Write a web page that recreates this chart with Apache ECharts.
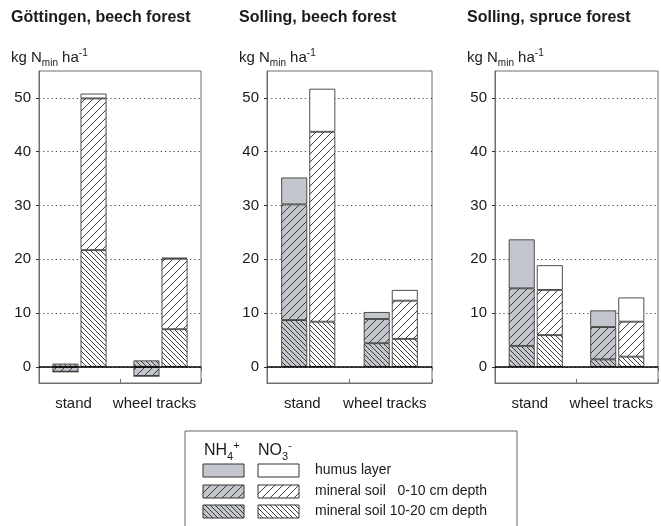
<!DOCTYPE html>
<html>
<head>
<meta charset="utf-8">
<script src="https://cdn.jsdelivr.net/npm/echarts@6/dist/echarts.min.js"></script>
<style>
  html, body { margin: 0; padding: 0; background: #fff; }
  #chart { width: 661px; height: 526px; }
</style>
</head>
<body>
<div id="chart"></div>
<script>
const categories = ['stand', 'wheel tracks'];
const yTickValues = [0, 10, 20, 30, 40, 50];
const panelTitles = ['Göttingen, beech forest', 'Solling, beech forest', 'Solling, spruce forest'];
const layerNames = ['humus layer', 'mineral soil   0-10 cm depth', 'mineral soil 10-20 cm depth'];

// kg Nmin ha-1, values per category [stand, wheel tracks]
// Göttingen, beech forest
const gottNh4Deep = [0.6, 1.2];
const gottNh4Top = [-0.9, -1.7];
const gottNh4Humus = [0, 0];
const gottNo3Deep = [21.7, 7.0];
const gottNo3Top = [28.2, 13.1];
const gottNo3Humus = [0.9, 0.2];
// Solling, beech forest
const sollBeechNh4Deep = [8.7, 4.4];
const sollBeechNh4Top = [21.5, 4.5];
const sollBeechNh4Humus = [5.0, 1.3];
const sollBeechNo3Deep = [8.4, 5.2];
const sollBeechNo3Top = [35.3, 7.1];
const sollBeechNo3Humus = [8.0, 2.0];
// Solling, spruce forest
const sollSpruceNh4Deep = [3.9, 1.4];
const sollSpruceNh4Top = [10.7, 6.0];
const sollSpruceNh4Humus = [9.1, 3.1];
const sollSpruceNo3Deep = [5.9, 1.9];
const sollSpruceNo3Top = [8.4, 6.5];
const sollSpruceNo3Humus = [4.6, 4.5];

const panelData = [
  { nh4: [gottNh4Deep, gottNh4Top, gottNh4Humus], no3: [gottNo3Deep, gottNo3Top, gottNo3Humus] },
  { nh4: [sollBeechNh4Deep, sollBeechNh4Top, sollBeechNh4Humus], no3: [sollBeechNo3Deep, sollBeechNo3Top, sollBeechNo3Humus] },
  { nh4: [sollSpruceNh4Deep, sollSpruceNh4Top, sollSpruceNh4Humus], no3: [sollSpruceNo3Deep, sollSpruceNo3Top, sollSpruceNo3Humus] }
];

// frame of each panel
const gridBoxes = [
  { left: 39, width: 162 },
  { left: 267, width: 165 },
  { left: 495, width: 163 }
];
const gridTop = 71;
const gridHeight = 312;

const GRAY = '#c3c6cc';
const FONT = 'Liberation Sans, Arial, sans-serif';

// hatch tiles, '/' for 0-10 cm, '\' for 10-20 cm
function hatch(bg, dir, step) {
  const c = document.createElement('canvas');
  c.width = step;
  c.height = step;
  const ctx = c.getContext('2d');
  if (bg) {
    ctx.fillStyle = bg;
    ctx.fillRect(0, 0, step, step);
  }
  ctx.strokeStyle = '#2a2a2a';
  ctx.lineWidth = 0.9;
  ctx.beginPath();
  if (dir === '/') {
    ctx.moveTo(-1, step + 1); ctx.lineTo(step + 1, -1);
    ctx.moveTo(-1, 1); ctx.lineTo(1, -1);
    ctx.moveTo(step - 1, step + 1); ctx.lineTo(step + 1, step - 1);
  } else {
    ctx.moveTo(-1, -1); ctx.lineTo(step + 1, step + 1);
    ctx.moveTo(step - 1, -1); ctx.lineTo(step + 1, 1);
    ctx.moveTo(-1, step - 1); ctx.lineTo(1, step + 1);
  }
  ctx.stroke();
  return { image: c, repeat: 'repeat' };
}

const fills = {
  nh4: [hatch(GRAY, '\\', 5), hatch(GRAY, '/', 8), GRAY],
  no3: [hatch('#ffffff', '\\', 5), hatch('#ffffff', '/', 8), '#ffffff']
};

const grids = [];
const xAxes = [];
const yAxes = [];
const series = [];

gridBoxes.forEach((g, p) => {
  grids.push({
    left: g.left, width: g.width, top: gridTop, height: gridHeight,
    show: true, borderColor: '#6e6e6e', borderWidth: 1, backgroundColor: 'transparent'
  });
  xAxes.push({
    type: 'category', gridIndex: p, data: categories, position: 'bottom',
    axisLine: { show: true, onZero: false, lineStyle: { color: '#6e6e6e' } },
    axisTick: { show: true, inside: true, length: 4, lineStyle: { color: '#6e6e6e' } },
    axisLabel: {
      interval: 0, hideOverlap: false, margin: 13, fontSize: 15, color: '#1a1a1a',
      fontFamily: FONT, padding: [0, 12, 0, 0]
    },
    splitLine: { show: false }
  });
  xAxes.push({
    type: 'category', gridIndex: p, data: categories, position: 'top',
    axisLine: { show: false },
    axisTick: { show: true, inside: true, length: 4, lineStyle: { color: '#6e6e6e' } },
    axisLabel: { show: false },
    splitLine: { show: false }
  });
  yAxes.push({
    type: 'value', gridIndex: p, min: -3, max: 55,
    axisLine: { show: true, lineStyle: { color: '#6e6e6e' } },
    axisTick: { show: true, length: 3, customValues: yTickValues, lineStyle: { color: '#333' } },
    axisLabel: {
      customValues: yTickValues, margin: 8, fontSize: 15, color: '#1a1a1a', fontFamily: FONT
    },
    splitLine: { show: true, lineStyle: { color: '#444', width: 1, type: [1.2, 3] } }
  });

  ['nh4', 'no3'].forEach(ion => {
    panelData[p][ion].forEach((vals, layer) => {
      const s = {
        type: 'bar', xAxisIndex: p * 2, yAxisIndex: p, stack: ion + p,
        data: vals, barWidth: 26, barGap: '8%',
        itemStyle: { color: fills[ion][layer], borderColor: '#3a3a3a', borderWidth: 0.9 },
        emphasis: { disabled: true }
      };
      if (ion === 'nh4' && layer === 0) {
        s.markLine = {
          silent: true, symbol: 'none', z: 10,
          label: { show: false },
          lineStyle: { color: '#000', width: 1.5, type: 'solid' },
          data: [{ yAxis: 0 }]
        };
      }
      series.push(s);
    });
  });
});

// titles and unit labels
const graphics = [];
const richUnit = {
  m: { fontSize: 15, fontFamily: FONT, fill: '#1a1a1a', lineHeight: 20 },
  sub: { fontSize: 10, fontFamily: FONT, fill: '#1a1a1a', lineHeight: 10, verticalAlign: 'bottom' },
  sup: { fontSize: 10, fontFamily: FONT, fill: '#1a1a1a', lineHeight: 10, verticalAlign: 'top' }
};
gridBoxes.forEach((g, p) => {
  graphics.push({
    type: 'text', left: g.left - 28, top: 10,
    style: { text: panelTitles[p], font: 'bold 16px ' + FONT, fill: '#1a1a1a' }
  });
  graphics.push({
    type: 'text', x: g.left - 28, y: 58,
    style: {
      text: '{m|kg N}{sub|min}{m| ha}{sup|-1}', rich: richUnit,
      verticalAlign: 'middle', align: 'left'
    }
  });
});

// legend box
const legendLeft = 185;
const legendTop = 431;
graphics.push({
  type: 'rect', shape: { x: legendLeft, y: legendTop, width: 332, height: 110 },
  style: { fill: '#fff', stroke: '#666', lineWidth: 1 }, z: 0
});
const richIon = {
  m: { fontSize: 16, fontFamily: FONT, fill: '#1a1a1a', lineHeight: 22 },
  sub: { fontSize: 11, fontFamily: FONT, fill: '#1a1a1a', lineHeight: 11, verticalAlign: 'bottom' },
  sup: { fontSize: 11, fontFamily: FONT, fill: '#1a1a1a', lineHeight: 11, verticalAlign: 'top' }
};
graphics.push({
  type: 'text', x: 204, y: 451, z: 5,
  style: { text: '{m|NH}{sub|4}{sup|+}', rich: richIon, verticalAlign: 'middle' }
});
graphics.push({
  type: 'text', x: 258, y: 451, z: 5,
  style: { text: '{m|NO}{sub|3}{sup|-}', rich: richIon, verticalAlign: 'middle' }
});
const legendRowsY = [464, 485, 505];
const legendFills = [
  [fills.nh4[2], fills.no3[2]],
  [fills.nh4[1], fills.no3[1]],
  [fills.nh4[0], fills.no3[0]]
];
legendRowsY.forEach((y, r) => {
  [203, 258].forEach((x, c) => {
    graphics.push({
      type: 'rect', z: 5, shape: { x: x, y: y, width: 41, height: 13 },
      style: { fill: legendFills[r][c], stroke: '#333', lineWidth: 1 }
    });
  });
  graphics.push({
    type: 'text', z: 5, x: 315, y: y + 6.5,
    style: { text: layerNames[r], font: '14px ' + FONT, fill: '#1a1a1a', verticalAlign: 'middle' }
  });
});

const chart = echarts.init(document.getElementById('chart'), null, { renderer: 'canvas' });
chart.setOption({
  animation: false,
  backgroundColor: '#fff',
  grid: grids,
  xAxis: xAxes,
  yAxis: yAxes,
  series: series,
  graphic: graphics
});
</script>
</body>
</html>
